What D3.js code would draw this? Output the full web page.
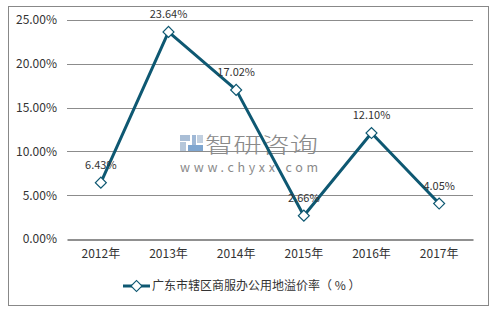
<!DOCTYPE html>
<html>
<head>
<meta charset="utf-8">
<title>chart</title>
<style>
  body { margin: 0; background: #fff; }
  svg text { font-family: "Microsoft YaHei", "Noto Sans CJK SC", "Liberation Sans", sans-serif; }
</style>
</head>
<body>
<div id="chart"></div>
<script src="https://cdn.jsdelivr.net/npm/d3@7"></script>
<script>
  // 年份と値
  var years = ["2012年", "2013年", "2014年", "2015年", "2016年", "2017年"];
  var rates = [6.43, 23.64, 17.02, 2.66, 12.10, 4.05];
  var yTicks = [0, 5, 10, 15, 20, 25];
  var seriesName = "广东市辖区商服办公用地溢价率（ % ）";

  var W = 497, H = 311;
  var lineColor = "#0e5872";
  var pLeft = 67, pRight = 473, pTop = 20, pBottom = 239;

  var svg = d3.select("#chart").append("svg")
    .attr("width", W).attr("height", H);

  // 外枠
  svg.append("rect")
    .attr("x", 8.5).attr("y", 6.5).attr("width", 480).attr("height", 299)
    .attr("fill", "none").attr("stroke", "#888").attr("stroke-width", 1);

  var x = d3.scaleBand().domain(years).range([pLeft, pRight]);
  var y = d3.scaleLinear().domain([0, 25]).range([pBottom, pTop]);

  // グリッド
  svg.append("g").selectAll("line").data(yTicks.slice(1)).enter().append("line")
    .attr("x1", pLeft).attr("x2", pRight)
    .attr("y1", function(d){ return Math.round(y(d)) + 0.5; })
    .attr("y2", function(d){ return Math.round(y(d)) + 0.5; })
    .attr("stroke", "#8c8c8c").attr("stroke-width", 1);

  // y軸
  var yAxis = d3.axisLeft(y).tickValues(yTicks).tickSize(0).tickPadding(10)
    .tickFormat(function(d){ return d.toFixed(2) + "%"; });
  var gy = svg.append("g").attr("transform", "translate(" + pLeft + ",0)").call(yAxis);
  gy.select(".domain").remove();
  gy.selectAll("text").attr("font-size", "12px").attr("fill", "#333");

  // x軸
  var xAxis = d3.axisBottom(x).tickSize(0).tickPadding(10);
  var gx = svg.append("g").attr("transform", "translate(0," + (Math.round(pBottom) + 0.5) + ")").call(xAxis);
  gx.select(".domain").attr("stroke", "#222").attr("stroke-width", 1.2);
  gx.selectAll("text").attr("font-size", "12px").attr("fill", "#333");

  // ウォーターマーク
  var wm = svg.append("g");
  wm.append("rect").attr("x", 180).attr("y", 135).attr("width", 10).attr("height", 6).attr("fill", "#a9bed6");
  wm.append("rect").attr("x", 180).attr("y", 142).attr("width", 6).attr("height", 9).attr("fill", "#b6c7da");
  wm.append("rect").attr("x", 192).attr("y", 135).attr("width", 4).attr("height", 10).attr("fill", "#9fb8d6");
  wm.append("rect").attr("x", 188).attr("y", 145).attr("width", 15).attr("height", 6).attr("fill", "#7fa6d0");
  wm.append("rect").attr("x", 197).attr("y", 135).attr("width", 6).attr("height", 8).attr("fill", "#c2d0e0");
  wm.append("text").attr("x", 205).attr("y", 152).attr("font-size", "21px")
    .attr("fill", "#8a8a8a").attr("font-weight", 300)
    .attr("textLength", 113).attr("lengthAdjust", "spacingAndGlyphs").text("智研咨询");
  wm.append("text").attr("x", 180).attr("y", 172).attr("font-size", "12.5px")
    .attr("fill", "#8a8a8a")
    .attr("textLength", 138).attr("lengthAdjust", "spacing").text("www.chyxx.com");

  // 折れ線
  var line = d3.line()
    .x(function(d, i){ return x(years[i]) + x.bandwidth() / 2; })
    .y(function(d){ return y(d); });
  svg.append("path").datum(rates)
    .attr("d", line).attr("fill", "none")
    .attr("stroke", lineColor).attr("stroke-width", 3).attr("stroke-linejoin", "round");

  var diamond = d3.symbol().type(d3.symbolSquare).size(60);
  svg.append("g").selectAll("path").data(rates).enter().append("path")
    .attr("d", diamond)
    .attr("transform", function(d, i){ return "translate(" + (x(years[i]) + x.bandwidth() / 2) + "," + y(d) + ") rotate(45)"; })
    .attr("fill", "#fff").attr("stroke", lineColor).attr("stroke-width", 1.2);

  // データラベル
  svg.append("g").selectAll("text").data(rates).enter().append("text")
    .attr("x", function(d, i){ return x(years[i]) + x.bandwidth() / 2; })
    .attr("y", function(d){ return y(d) - 14; })
    .attr("text-anchor", "middle").attr("font-size", "11px").attr("fill", "#333")
    .text(function(d){ return d.toFixed(2) + "%"; });

  // 凡例
  var lg = svg.append("g").attr("transform", "translate(123,286)");
  lg.append("line").attr("x1", 0).attr("x2", 27).attr("y1", 0).attr("y2", 0)
    .attr("stroke", lineColor).attr("stroke-width", 3);
  lg.append("path").attr("d", diamond).attr("transform", "translate(13.5,0) rotate(45)")
    .attr("fill", "#fff").attr("stroke", lineColor).attr("stroke-width", 1.2);
  lg.append("text").attr("x", 29).attr("y", 0).attr("dy", "0.35em")
    .attr("font-size", "12px").attr("fill", "#333").text(seriesName);
</script>
</body>
</html>
